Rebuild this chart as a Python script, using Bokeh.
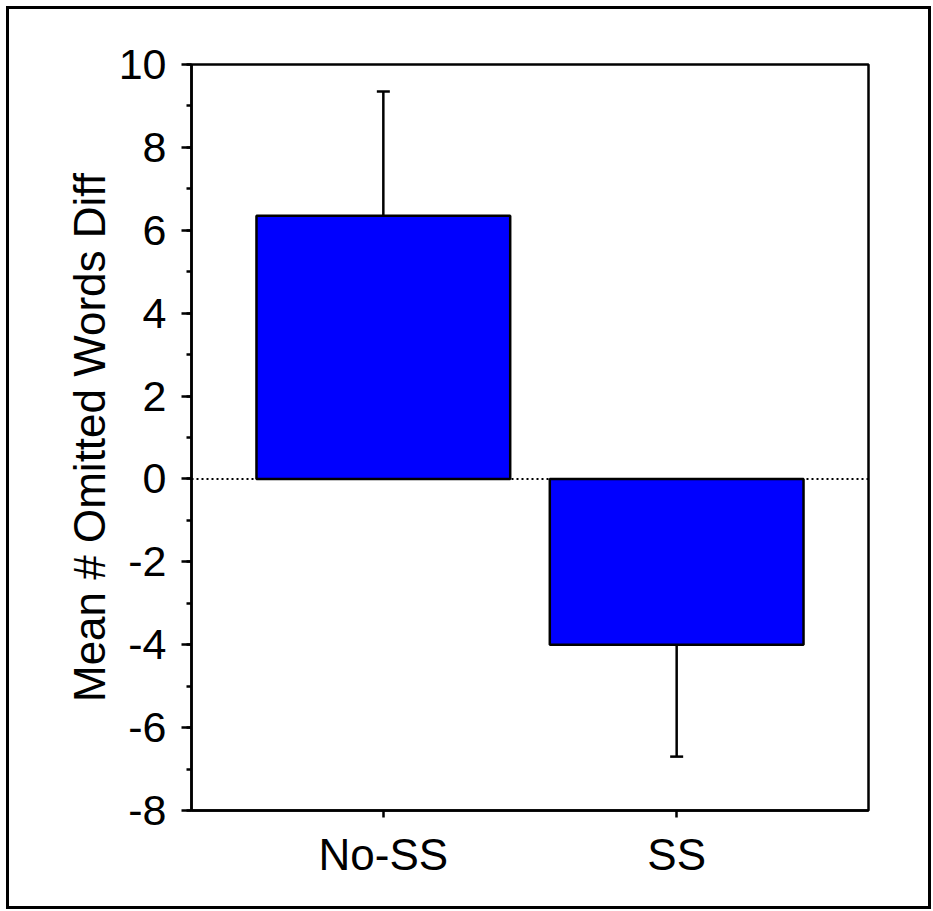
from bokeh.plotting import figure
from bokeh.models import FactorRange, Range1d, Span, Whisker, TeeHead, ColumnDataSource, FixedTicker
from bokeh.embed import file_html
from bokeh.resources import INLINE

categories = ["No-SS", "SS"]
means = [6.35, -4.0]
errors = [3.0, 2.7]
y_ticks = [-8, -6, -4, -2, 0, 2, 4, 6, 8, 10]
y_tick_labels = ["-8", "-6", "-4", "-2", "0", "2", "4", "6", "8", "10"]
y_label = "Mean # Omitted Words Diff"

ends = [m + (e if m >= 0 else -e) for m, e in zip(means, errors)]
src = ColumnDataSource(dict(cat=categories, mean=means, end=ends))

FONT = "Liberation Sans"

p = figure(
    x_range=FactorRange(factors=categories, range_padding=0.154),
    y_range=Range1d(-8, 10),
    frame_width=677, frame_height=746,
    min_border_left=182, min_border_top=55, min_border_right=60, min_border_bottom=96,
    output_backend="svg", toolbar_location=None,
)
p.styles = {"border": "3px solid black",
            "margin-left": "6px", "margin-top": "6px"}

p.grid.visible = False
p.background_fill_color = "white"
p.border_fill_color = "white"
p.outline_line_color = "black"
p.outline_line_width = 2.5
p.outline_line_alpha = 1.0

zero = Span(location=0, dimension="width", line_color="black", line_width=2,
            line_dash="2 3", level="underlay")
p.add_layout(zero)

p.vbar(x="cat", top="mean", bottom=0, width=0.865, source=src,
       fill_color="#0000FF", line_color="black", line_width=2.5)

wh = Whisker(base="cat", lower="mean", upper="end", source=src,
             line_color="black", line_width=2.5,
             lower_head=None,
             upper_head=TeeHead(size=13, line_color="black", line_width=2.5))
p.add_layout(wh)

ya = p.yaxis[0]
ya.ticker = FixedTicker(ticks=y_ticks, minor_ticks=list(range(-8, 11)))
ya.major_label_overrides = {t: s for t, s in zip(y_ticks, y_tick_labels)}
ya.axis_label = y_label
ya.axis_label_text_font = FONT
ya.axis_label_text_font_size = "44px"
ya.axis_label_text_font_style = "normal"
ya.axis_label_text_color = "black"
ya.axis_label_standoff = 2
ya.major_label_text_font = FONT
ya.major_label_text_font_size = "43px"
ya.major_label_text_color = "black"
ya.major_label_standoff = 15
ya.major_tick_out = 10
ya.major_tick_in = 0
ya.minor_tick_out = 5
ya.minor_tick_in = 0
ya.axis_line_width = 2.5
ya.major_tick_line_width = 2.5
ya.minor_tick_line_width = 2.5
ya.axis_line_color = "black"

xa = p.xaxis[0]
xa.major_label_text_font = FONT
xa.major_label_text_font_size = "44px"
xa.major_label_text_color = "black"
xa.major_label_standoff = 12
xa.major_tick_out = 7
xa.major_tick_in = 0
xa.axis_line_width = 2.5
xa.major_tick_line_width = 2.5
xa.axis_line_color = "black"

open("out.html", "w").write(file_html(p, INLINE))
